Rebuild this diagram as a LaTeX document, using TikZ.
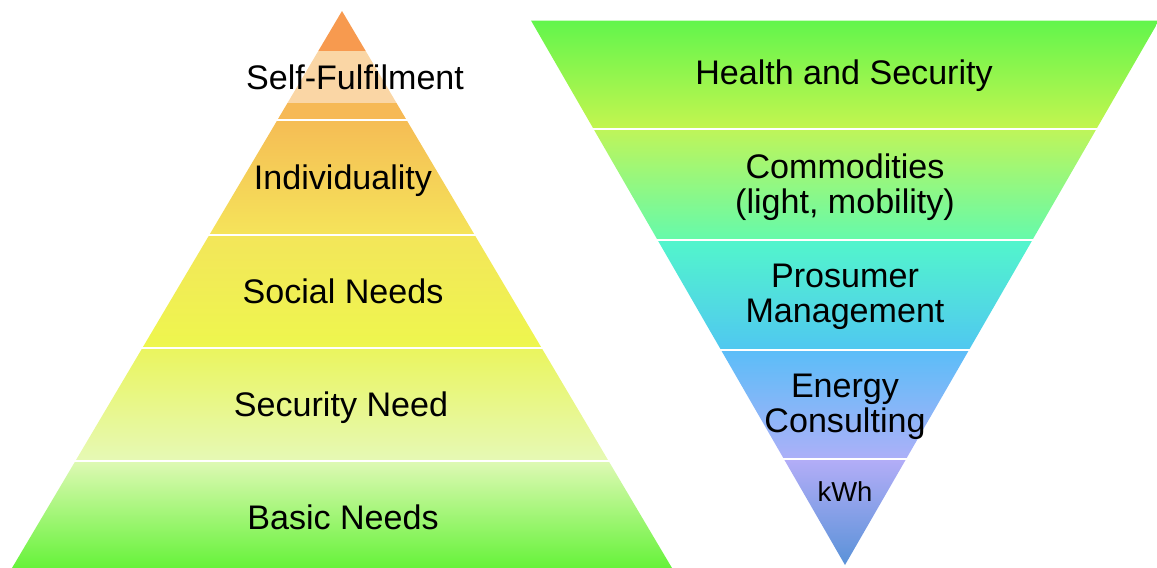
\documentclass[tikz,border=0pt]{standalone}
\usepackage{fontspec}
\setmainfont{Liberation Sans}
\usepackage{tikz}
\usetikzlibrary{positioning}

\definecolor{sfA}{HTML}{F79A4F}
\definecolor{sfB}{HTML}{FAD6A5}
\definecolor{sfC}{HTML}{F6B955}
\definecolor{indTop}{HTML}{F5BD55}
\definecolor{indBot}{HTML}{F5E35A}
\definecolor{socTop}{HTML}{F3E65A}
\definecolor{socBot}{HTML}{EEF64E}
\definecolor{secTop}{HTML}{EAF55F}
\definecolor{secBot}{HTML}{E6F9B4}
\definecolor{basTop}{HTML}{DDF9B3}
\definecolor{basBot}{HTML}{66F23A}
\definecolor{heaTop}{HTML}{62F54C}
\definecolor{heaBot}{HTML}{C2F54F}
\definecolor{comTop}{HTML}{BEF55A}
\definecolor{comBot}{HTML}{66FAAA}
\definecolor{proTop}{HTML}{52F5CC}
\definecolor{proBot}{HTML}{50C8F0}
\definecolor{eneTop}{HTML}{5CBDF8}
\definecolor{eneBot}{HTML}{ABB0F8}
\definecolor{kwhTop}{HTML}{B2ADF7}
\definecolor{kwhBot}{HTML}{5A92D8}

\tikzset{
  level/.style={text=black, align=center,
    font=\fontsize{19.4}{20}\selectfont},
  smalllevel/.style={level, font=\fontsize{15.6}{17}\selectfont}
}

\begin{document}
\begin{tikzpicture}[x=0.02cm,y=-0.02cm]

  \useasboundingbox (0,0) rectangle (1157,568);

  % pyramid
  \coordinate (P) at (342,11);
  \coordinate (PL) at (12,568);
  \coordinate (PR) at (672,568);

  \begin{scope}
    \clip (P)--(PL)--(PR)--cycle;
    \fill[sfA] (0,0) rectangle (700,51);
    \fill[sfB] (0,51) rectangle (700,103);
    \fill[sfC] (0,103) rectangle (700,118.5);
    \shade[top color=indTop,bottom color=indBot] (0,121.5) rectangle (700,233);
    \shade[top color=socTop,bottom color=socBot] (0,236) rectangle (700,346);
    \shade[top color=secTop,bottom color=secBot] (0,349) rectangle (700,459);
    \shade[top color=basTop,bottom color=basBot] (0,462) rectangle (700,568);
  \end{scope}

  % funnel
  \coordinate (FL) at (531,20.5);
  \coordinate (FR) at (1159,20.5);
  \coordinate (F) at (845,565);

  \begin{scope}
    \clip (FL)--(FR)--(F)--cycle;
    \shade[top color=heaTop,bottom color=heaBot] (500,20.5) rectangle (1157,127);
    \shade[top color=comTop,bottom color=comBot] (500,130) rectangle (1157,238.5);
    \shade[top color=proTop,bottom color=proBot] (500,241.5) rectangle (1157,348.5);
    \shade[top color=eneTop,bottom color=eneBot] (500,351.5) rectangle (1157,457.5);
    \shade[top color=kwhTop,bottom color=kwhBot] (500,460.5) rectangle (1157,565);
  \end{scope}

  \node[level] (selfful) at (355,77) {Self-Fulfilment};
  \node[level] (indiv) at (343,181) {Individuality};
  \node[level] (social) at (343,291) {Social Needs};
  \node[level] (secneed) at (341,408) {Security Need};
  \node[level] (basic) at (343,517) {Basic Needs};

  \node[level] (health) at (844,76) {Health and Security};
  \node[level] (commod) at (845,187) {Commodities\\(light, mobility)};
  \node[level] (prosum) at (845,297) {Prosumer\\Management};
  \node[level] (energy) at (845,407) {Energy\\Consulting};
  \node[smalllevel] (kwh) at (845,492) {kWh};

\end{tikzpicture}
\end{document}
